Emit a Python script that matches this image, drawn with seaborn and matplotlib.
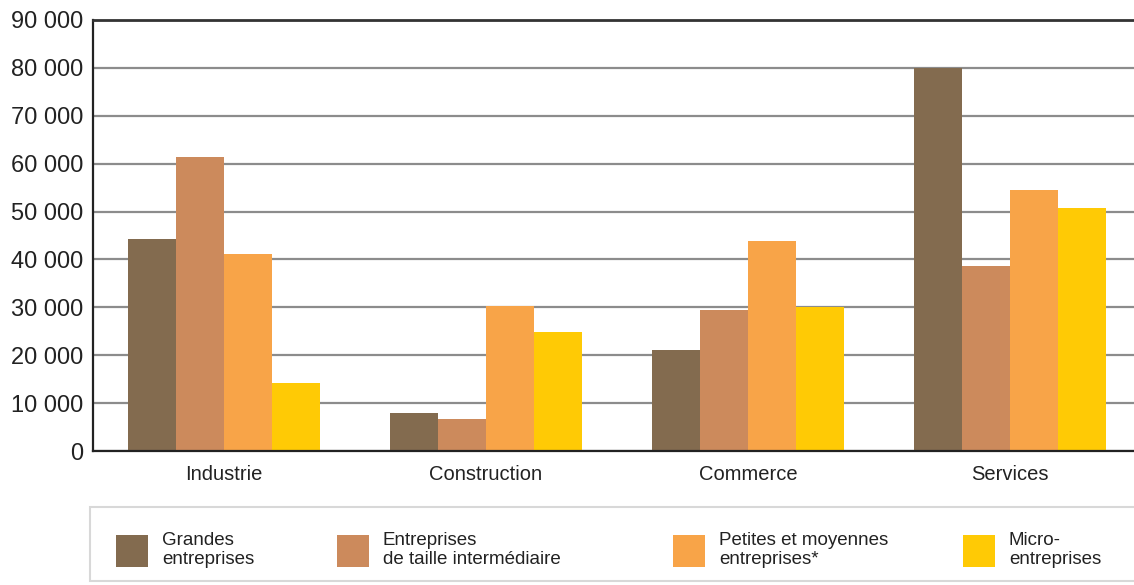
import matplotlib
matplotlib.use("Agg")
import matplotlib.pyplot as plt
import seaborn as sns
import pandas as pd
from matplotlib.ticker import FuncFormatter, FixedLocator
from matplotlib.patches import Rectangle

categories = ["Industrie", "Construction", "Commerce", "Services"]
series = ["Grandes\nentreprises", "Entreprises\nde taille intermédiaire",
          "Petites et moyennes\nentreprises*", "Micro-\nentreprises"]
grandes = [44300, 8000, 21000, 80000]
eti = [61400, 6600, 29400, 38700]
pme = [41100, 30300, 43900, 54500]
micro = [14100, 24800, 30000, 50800]
y_ticks = [0, 10000, 20000, 30000, 40000, 50000, 60000, 70000, 80000, 90000]
colors = ["#836B4F", "#CC8A5C", "#F8A448", "#FFCA05"]

rows = []
for s, vals in zip(series, [grandes, eti, pme, micro]):
    for c, v in zip(categories, vals):
        rows.append({"Secteur": c, "Catégorie": s, "Valeur": v})
df = pd.DataFrame(rows)

sns.set_theme(style="white")
plt.rcParams["font.family"] = ["Liberation Sans", "DejaVu Sans"]

W, H = 1134, 585
fig = plt.figure(figsize=(W / 100, H / 100), dpi=100)
ax = fig.add_axes([93 / W, 1 - 451 / H, (1141 - 93) / W, (451 - 20) / H])

sns.barplot(data=df, x="Secteur", y="Valeur", hue="Catégorie", order=categories,
            hue_order=series, palette=colors, width=0.73, gap=0, linewidth=0,
            saturation=1, ax=ax, legend=True)

ax.set_xlim(-0.5, 3.5)
ax.set_ylim(0, 90000)
ax.yaxis.set_major_locator(FixedLocator(y_ticks))
ax.yaxis.set_major_formatter(FuncFormatter(lambda v, p: f"{int(v):,}".replace(",", " ")))
ax.set_xlabel("")
ax.set_ylabel("")

ax.yaxis.grid(True, color="#8c8c8c", linewidth=1.6)
ax.xaxis.grid(False)
ax.set_axisbelow(True)

ax.tick_params(axis="y", length=0, labelsize=17, pad=7, labelcolor="#222222")
ax.tick_params(axis="x", which="major", length=0, labelsize=14.5, pad=10, labelcolor="#222222")
ax.xaxis.set_minor_locator(FixedLocator([-0.5, 0.5, 1.5, 2.5]))
ax.tick_params(axis="x", which="minor", length=11, width=1.6, color="#222222", direction="out")

for side in ["left", "bottom", "top"]:
    ax.spines[side].set_visible(True)
    ax.spines[side].set_color("#222222")
    ax.spines[side].set_linewidth(1.6)
ax.spines["top"].set_color("#333333")
ax.spines["top"].set_linewidth(2.0)
ax.spines["right"].set_visible(False)

handles, labels = ax.get_legend_handles_labels()
ax.get_legend().remove()

# legend frame
fig.patches.append(Rectangle((90 / W, 1 - 581 / H), (1140 - 90) / W, (581 - 507) / H,
                             transform=fig.transFigure, facecolor="white",
                             edgecolor="#d8d8d8", linewidth=1.5, zorder=0))

legend_x = [116, 337, 673, 963]
for h, lab, lx in zip(handles, series, legend_x):
    fig.legend([h], [lab], loc="center left",
               bbox_to_anchor=(lx / W, 1 - 550 / H),
               frameon=False, fontsize=13.5, handlelength=1.7,
               handleheight=2.25, handletextpad=0.75, borderpad=0,
               borderaxespad=0, labelcolor="#222222")

fig.savefig("out.png", dpi=100)
